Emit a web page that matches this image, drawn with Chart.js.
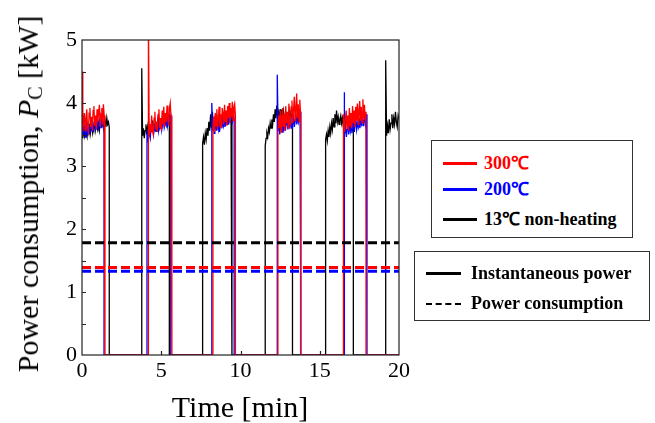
<!DOCTYPE html>
<html>
<head>
<meta charset="utf-8">
<script src="https://cdn.jsdelivr.net/npm/chart.js@4.4.1/dist/chart.umd.min.js"></script>
<style>
  body { margin: 0; background: #fff; }
  #wrap { position: relative; width: 655px; height: 423px; font-family: "Liberation Serif", "Times New Roman", serif; }
  #wrap canvas { position: absolute; left: 0; top: 0; }
  .ytitle { position: absolute; left: 28px; top: 194px; transform: translate(-50%, -50%) rotate(-90deg);
            white-space: nowrap; font-size: 30px; color: #000; }
  .ytitle sub { font-size: 20px; vertical-align: -4px; line-height: 0; }
  .xtitle { position: absolute; left: 240px; top: 392px; transform: translateX(-50%);
            white-space: nowrap; font-size: 30px; color: #000; line-height: 30px; }
  .legend { position: absolute; border: 1px solid #333; background: #fff; font-weight: bold; font-size: 18px; }
  .row { position: absolute; white-space: nowrap; line-height: 20px; }
  .sw { position: absolute; height: 0; }
</style>
</head>
<body>
<div id="wrap">
  <canvas id="chart" width="655" height="423"></canvas>
  <div class="ytitle">Power consumption, <i>P</i><sub>C</sub> [kW]</div>
  <div class="xtitle">Time [min]</div>

  <div class="legend" style="left:431px; top:140px; width:200px; height:96px;">
    <div class="sw" style="left:11px; top:21px; width:34px; border-top:3px solid #ff0000;"></div>
    <div class="row" style="left:52px; top:12px; color:#ff0000;">300℃</div>
    <div class="sw" style="left:11px; top:47px; width:34px; border-top:3px solid #0000ff;"></div>
    <div class="row" style="left:52px; top:38px; color:#0000ff;">200℃</div>
    <div class="sw" style="left:11px; top:77px; width:34px; border-top:3px solid #000;"></div>
    <div class="row" style="left:52px; top:68px; color:#000;">13℃ non-heating</div>
  </div>

  <div class="legend" style="left:414px; top:251px; width:234px; height:68px;">
    <div class="sw" style="left:11px; top:20px; width:35px; border-top:3px solid #000;"></div>
    <div class="row" style="left:56px; top:11px;">Instantaneous power</div>
    <div class="sw" style="left:11px; top:51px; width:35px; border-top:2px dashed #000;"></div>
    <div class="row" style="left:56px; top:41px;">Power consumption</div>
  </div>
</div>

<script>
// =====================================================
// DATA
// =====================================================

// on-periods [start, end] in min
const redOn   = [[0, 1.45], [4.19, 5.67], [8.26, 9.68], [12.36, 13.79], [16.47, 17.92]]
const blueOn  = [[0, 1.39], [4.10, 5.60], [8.19, 9.60], [12.32, 13.81], [16.53, 17.98]]
const blackOn = [[0, 1.72], [3.77, 5.51], [7.61, 9.46], [11.56, 13.28], [15.37, 17.12], [19.16, 20]]

// instantaneous power during each on-period [kW], evenly sampled
const redPower = [
  [4.5, 3.55, 3.7, 3.84, 3.56, 3.75, 3.9, 3.6, 3.54, 3.84, 3.92, 3.62, 3.78, 3.56, 3.88, 3.95, 3.64, 3.8, 3.58, 3.9, 3.7, 3.85, 3.97, 3.62, 3.82, 3.92, 3.66, 3.98, 3.8, 3.68],
  [5.4, 3.48, 3.66, 3.52, 3.8, 3.56, 3.5, 3.76, 3.86, 3.58, 3.7, 3.54, 3.82, 3.9, 3.6, 3.76, 3.56, 3.88, 3.66, 3.94, 3.62, 3.84, 3.7, 3.96, 3.74, 3.64, 3.92, 4.0, 3.76, 3.8],
  [3.6, 3.78, 3.54, 3.84, 3.64, 3.9, 3.58, 3.74, 3.94, 3.62, 3.82, 3.6, 3.92, 3.84, 3.66, 3.97, 3.7, 3.88, 3.64, 3.95, 3.76, 4.0, 3.68, 3.92, 3.78, 4.02, 3.72, 3.94, 3.99, 3.8],
  [3.56, 3.8, 3.6, 3.88, 3.54, 3.76, 3.92, 3.62, 3.82, 3.56, 3.95, 3.68, 3.86, 3.6, 3.99, 3.74, 3.64, 3.94, 4.04, 3.68, 3.9, 4.1, 3.72, 3.92, 4.15, 3.76, 3.98, 3.7, 4.05, 3.84],
  [3.58, 3.82, 3.54, 3.76, 3.88, 3.6, 3.8, 3.56, 3.92, 3.64, 3.84, 3.6, 3.95, 3.68, 3.88, 3.62, 3.94, 3.72, 3.99, 3.66, 3.9, 4.03, 3.72, 3.94, 3.68, 4.06, 3.76, 3.97, 3.72, 3.86]
]
const bluePower = [
  [3.62, 3.48, 3.55, 3.66, 3.46, 3.6, 3.7, 3.52, 3.58, 3.68, 3.5, 3.62, 3.72, 3.56, 3.64, 3.54, 3.7, 3.76, 3.6, 3.66, 3.58, 3.74, 3.62, 3.7, 3.78, 3.6, 3.68, 3.74, 3.64, 3.7],
  [3.56, 3.46, 3.6, 3.5, 3.44, 3.64, 3.54, 3.68, 3.5, 3.58, 3.7, 3.55, 3.62, 3.72, 3.56, 3.66, 3.6, 3.74, 3.58, 3.68, 3.78, 3.62, 3.7, 3.66, 3.8, 3.64, 3.74, 3.82, 3.7, 3.76],
  [4.0, 3.56, 3.68, 3.52, 3.62, 3.74, 3.56, 3.66, 3.6, 3.72, 3.54, 3.64, 3.76, 3.6, 3.7, 3.64, 3.78, 3.62, 3.72, 3.8, 3.66, 3.74, 3.7, 3.84, 3.68, 3.78, 3.86, 3.72, 3.8, 3.76],
  [4.45, 3.56, 3.7, 3.5, 3.62, 3.76, 3.54, 3.66, 3.6, 3.78, 3.56, 3.68, 3.74, 3.58, 3.8, 3.64, 3.7, 3.6, 3.76, 3.66, 3.82, 3.62, 3.72, 3.78, 3.66, 3.84, 3.7, 3.76, 3.86, 3.74],
  [4.17, 3.5, 3.62, 3.46, 3.58, 3.68, 3.5, 3.64, 3.56, 3.72, 3.52, 3.6, 3.7, 3.54, 3.66, 3.74, 3.58, 3.68, 3.62, 3.76, 3.6, 3.7, 3.66, 3.8, 3.64, 3.72, 3.78, 3.68, 3.82, 3.74]
]
const blackPower = [
  [3.52, 3.44, 3.56, 3.48, 3.62, 3.5, 3.46, 3.6, 3.54, 3.66, 3.5, 3.58, 3.64, 3.52, 3.6, 3.68, 3.55, 3.62, 3.7, 3.58, 3.64, 3.56, 3.7, 3.62, 3.66, 3.74, 3.6, 3.68, 3.72, 3.62, 3.76, 3.66, 3.7, 3.62],
  [4.55, 3.48, 3.6, 3.44, 3.56, 3.66, 3.5, 3.62, 3.7, 3.52, 3.58, 3.66, 3.54, 3.72, 3.6, 3.64, 3.56, 3.7, 3.62, 3.68, 3.74, 3.6, 3.66, 3.72, 3.62, 3.7, 3.76, 3.64, 3.7, 3.66, 3.74, 3.68, 3.72, 3.7],
  [3.36, 3.46, 3.34, 3.52, 3.42, 3.6, 3.48, 3.7, 3.56, 3.82, 3.6, 3.86, 3.66, 3.74, 3.62, 3.7, 3.78, 3.64, 3.72, 3.68, 3.76, 3.66, 3.74, 3.8, 3.7, 3.76, 3.68, 3.78, 3.72, 3.8, 3.74, 3.78, 3.72, 3.76],
  [3.32, 3.44, 3.52, 3.46, 3.6, 3.54, 3.68, 3.6, 3.74, 3.66, 3.82, 3.7, 3.9, 3.76, 3.96, 3.8, 3.86, 3.74, 3.9, 3.78, 3.84, 3.72, 3.88, 3.8, 3.76, 3.86, 3.74, 3.82, 3.78, 3.88, 3.76, 3.84, 3.8, 3.78],
  [3.42, 3.5, 3.4, 3.56, 3.46, 3.62, 3.52, 3.68, 3.58, 3.76, 3.62, 3.82, 3.68, 3.88, 3.7, 3.78, 3.66, 3.74, 3.8, 3.68, 3.76, 3.64, 3.72, 3.78, 3.66, 3.74, 3.7, 3.76, 3.68, 3.72, 3.78, 3.7, 3.74, 3.7],
  [4.68, 3.48, 3.64, 3.52, 3.74, 3.58, 3.68, 3.82, 3.6, 3.76, 3.66, 3.86, 3.7, 3.62, 3.8, 3.74]
]

// mean power consumption [kW]
const redMean   = 1.39
const blueMean  = 1.33
const blackMean = 1.78

const xTicks = [0, 5, 10, 15, 20]
const yTicks = [0, 1, 2, 3, 4, 5]

// =====================================================
// BUILD POINTS
// =====================================================

function buildSeries(onTimes, levels) {
  const pts = []
  onTimes.forEach(([t0, t1], k) => {
    const v = levels[k]
    if (t0 > 0) pts.push({ x: t0, y: 0 })
    v.forEach((y, i) => pts.push({ x: t0 + (t1 - t0) * i / (v.length - 1), y }))
    if (t1 < 20) pts.push({ x: t1, y: 0 })
  })
  const last = pts[pts.length - 1]
  if (last.x < 20) pts.push({ x: 20, y: 0 })
  return pts
}

function flat(y) { return [{ x: 0, y }, { x: 20, y }] }

// =====================================================
// PLUGIN: box + inward ticks
// =====================================================

const frame = {
  id: 'frame',
  afterDraw(chart) {
    const { ctx, chartArea: a, scales } = chart
    ctx.save()
    ctx.strokeStyle = '#222'
    ctx.lineWidth = 1.2
    ctx.strokeRect(a.left, a.top, a.right - a.left, a.bottom - a.top)
    ctx.beginPath()
    for (let v = 0.5; v < 5; v += 0.5) {
      const y = Math.round(scales.y.getPixelForValue(v)) + 0.5
      ctx.moveTo(a.left, y); ctx.lineTo(a.left + 4, y)
    }
    xTicks.slice(1, -1).forEach(v => {
      const x = Math.round(scales.x.getPixelForValue(v)) + 0.5
      ctx.moveTo(x, a.bottom); ctx.lineTo(x, a.bottom - 4)
    })
    ctx.stroke()
    ctx.restore()
  }
}

// =====================================================
// CHART
// =====================================================

const tickFont = { family: '"Liberation Serif", "Times New Roman", serif', size: 22 }

new Chart(document.getElementById('chart').getContext('2d'), {
  type: 'line',
  data: {
    datasets: [
      { data: flat(blackMean), borderColor: '#000', borderWidth: 3, borderDash: [9, 4] },
      { data: flat(redMean),   borderColor: '#ff0000', borderWidth: 3, borderDash: [9, 4] },
      { data: flat(blueMean),  borderColor: '#0000ff', borderWidth: 3, borderDash: [9, 4] },
      { data: buildSeries(redOn, redPower),     borderColor: '#ff0000', borderWidth: 1.3 },
      { data: buildSeries(blueOn, bluePower),   borderColor: '#0000ff', borderWidth: 1.3 },
      { data: buildSeries(blackOn, blackPower), borderColor: '#000',    borderWidth: 1.3 }
    ]
  },
  options: {
    responsive: false,
    devicePixelRatio: 1,
    animation: false,
    parsing: false,
    elements: { point: { radius: 0 }, line: { tension: 0 } },
    layout: { padding: { left: 0, top: 40, right: 256, bottom: 0 } },
    plugins: { legend: { display: false }, tooltip: { enabled: false } },
    scales: {
      x: {
        type: 'linear', min: 0, max: 20,
        afterBuildTicks: s => { s.ticks = xTicks.map(value => ({ value })) },
        afterFit: s => { s.height = 68 },
        ticks: { font: tickFont, color: '#000', padding: 3, maxRotation: 0 },
        grid: { display: false, drawTicks: false },
        border: { display: false }
      },
      y: {
        min: 0, max: 5,
        afterBuildTicks: s => { s.ticks = yTicks.map(value => ({ value })) },
        afterFit: s => { s.width = 82 },
        ticks: { font: tickFont, color: '#000', padding: 5 },
        grid: { display: false, drawTicks: false },
        border: { display: false }
      }
    }
  },
  plugins: [frame]
})
</script>
</body>
</html>
